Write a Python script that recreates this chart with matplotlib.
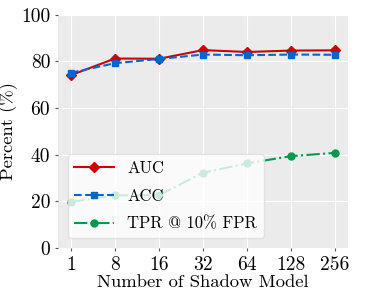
import matplotlib
matplotlib.use('Agg')
import matplotlib.pyplot as plt
import numpy as np

plt.rcParams['font.family'] = 'serif'
plt.rcParams['font.serif'] = ['cmr10']
plt.rcParams['mathtext.fontset'] = 'cm'
plt.rcParams['axes.unicode_minus'] = False

shadow = ['1', '8', '16', '32', '64', '128', '256']
auc = [74.1, 81.2, 81.1, 84.8, 84.0, 84.6, 84.7]
acc = [75.1, 79.2, 81.0, 82.9, 82.6, 82.9, 82.8]
tpr = [19.8, 22.6, 22.7, 32.3, 36.3, 39.4, 40.8]

fig, ax = plt.subplots(figsize=(3.66, 2.92), dpi=100)
ax.set_facecolor('#ebebeb')
for s in ax.spines.values():
    s.set_visible(False)
ax.grid(True, color='white', linewidth=0.8)
ax.set_axisbelow(True)

x = np.arange(len(shadow))
ax.plot(x, auc, color='#cc0000', marker='D', markersize=5, linestyle='-', linewidth=1.5, label='AUC')
ax.plot(x, acc, color='#0066cc', marker='s', markersize=5, linestyle='--', linewidth=1.5, label='ACC')
ax.plot(x, tpr, color='#009950', marker='o', markersize=5, linestyle='-.', linewidth=1.5, label='TPR @ 10% FPR')

ax.set_xticks(x)
ax.set_xticklabels(shadow)
ax.set_xlim(-0.3, 6.3)
ax.set_ylim(0, 100)
ax.set_yticks([0, 20, 40, 60, 80, 100])
ax.tick_params(axis='both', labelsize=14, length=2, color='#555555')
ax.set_xlabel('Number of Shadow Model', fontsize=13.4, labelpad=1)
ax.set_ylabel('Percent (%)', fontsize=13.4, labelpad=2)
ax.legend(loc='lower left', fontsize=12, framealpha=0.8, edgecolor='#dddddd',
          handlelength=2.4, handletextpad=0.75, borderpad=0.4, labelspacing=0.75,
          borderaxespad=0.6)

fig.subplots_adjust(left=0.158, right=0.951, top=0.95, bottom=0.15)
fig.savefig('out.png', dpi=100)
